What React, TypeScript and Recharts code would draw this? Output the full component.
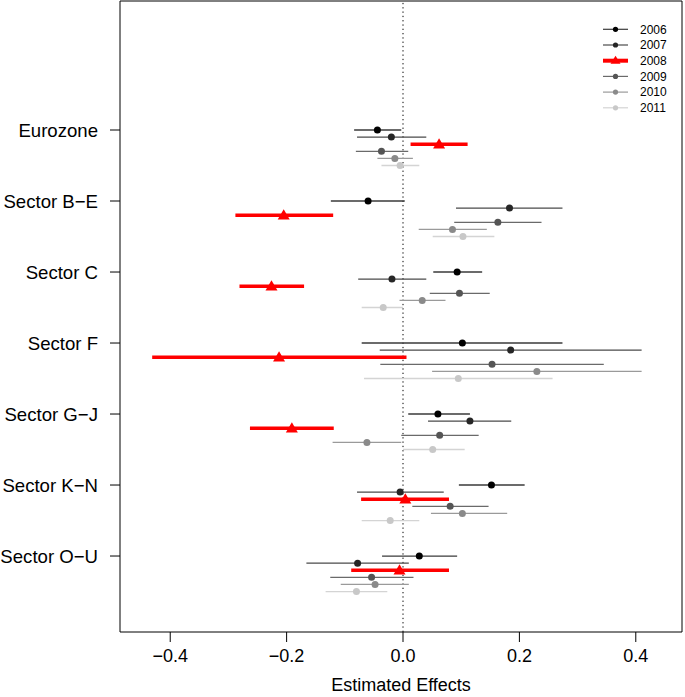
import React from 'react';
import { ScatterChart, Scatter, XAxis, YAxis, ErrorBar, ReferenceLine, ReferenceArea, Legend } from 'recharts';

// ---------- data ----------
const categories = ['Eurozone', 'Sector B−E', 'Sector C', 'Sector F', 'Sector G−J', 'Sector K−N', 'Sector O−U'];
const years = ['2006', '2007', '2008', '2009', '2010', '2011'];
const xTicks = [-0.4, -0.2, 0, 0.2, 0.4];

const est2006 = [-0.044, -0.060, 0.093, 0.102, 0.060, 0.152, 0.028];
const lo2006 = [-0.084, -0.124, 0.052, -0.071, 0.009, 0.096, -0.036];
const hi2006 = [-0.003, 0.003, 0.136, 0.274, 0.115, 0.209, 0.093];

const est2007 = [-0.020, 0.183, -0.019, 0.185, 0.115, -0.005, -0.078];
const lo2007 = [-0.079, 0.091, -0.077, -0.040, 0.043, -0.079, -0.166];
const hi2007 = [0.040, 0.274, 0.040, 0.410, 0.186, 0.070, 0.010];

const est2008 = [0.062, -0.205, -0.226, -0.213, -0.191, 0.004, -0.006];
const lo2008 = [0.013, -0.288, -0.281, -0.431, -0.263, -0.072, -0.089];
const hi2008 = [0.111, -0.120, -0.170, 0.006, -0.119, 0.079, 0.079];

const est2009 = [-0.037, 0.163, 0.097, 0.153, 0.063, 0.081, -0.054];
const lo2009 = [-0.081, 0.088, 0.046, -0.039, -0.003, 0.016, -0.125];
const hi2009 = [0.009, 0.238, 0.149, 0.345, 0.130, 0.147, 0.018];

const est2010 = [-0.014, 0.085, 0.033, 0.230, -0.062, 0.102, -0.048];
const lo2010 = [-0.044, 0.027, -0.006, 0.050, -0.121, 0.048, -0.107];
const hi2010 = [0.017, 0.144, 0.073, 0.410, -0.003, 0.179, 0.010];

const est2011 = [-0.005, 0.103, -0.034, 0.095, 0.051, -0.022, -0.080];
const lo2011 = [-0.037, 0.051, -0.071, -0.067, 0.000, -0.071, -0.133];
const hi2011 = [0.028, 0.157, 0.000, 0.257, 0.106, 0.028, -0.027];

const seriesValues = [
  { est: est2006, lo: lo2006, hi: hi2006 },
  { est: est2007, lo: lo2007, hi: hi2007 },
  { est: est2008, lo: lo2008, hi: hi2008 },
  { est: est2009, lo: lo2009, hi: hi2009 },
  { est: est2010, lo: lo2010, hi: hi2010 },
  { est: est2011, lo: lo2011, hi: hi2011 },
];

// ---------- styles ----------
const seriesStyle = [
  { point: '#000000', line: '#3a3a3a', width: 1.3, triangle: false },
  { point: '#262626', line: '#4a4a4a', width: 1.3, triangle: false },
  { point: '#ff0000', line: '#ff0000', width: 3.5, triangle: true },
  { point: '#555555', line: '#6a6a6a', width: 1.3, triangle: false },
  { point: '#8a8a8a', line: '#9a9a9a', width: 1.3, triangle: false },
  { point: '#c8c8c8', line: '#d4d4d4', width: 1.3, triangle: false },
];

const X_MIN = -0.4863;
const X_MAX = 0.4794;
const Y_MIN = -1.817;
const Y_MAX = 7.07;
const STEP = 0.1;
const FONT = "'Liberation Sans', Arial, Helvetica, sans-serif";

const buildData = (k: number) =>
  categories.map((c, i) => {
    const v = seriesValues[k];
    return {
      cat: c,
      x: v.est[i],
      y: i + k * STEP,
      err: [v.est[i] - v.lo[i], v.hi[i] - v.est[i]],
    };
  });

const makeShape = (k: number) => (props: any) => {
  const { cx, cy } = props;
  const st = seriesStyle[k];
  if (cx == null || cy == null) return <g />;
  if (st.triangle) {
    return (
      <path
        d={`M${cx},${cy - 6} L${cx + 6},${cy + 4.3} L${cx - 6},${cy + 4.3} Z`}
        fill={st.point}
      />
    );
  }
  return <circle cx={cx} cy={cy} r={3.5} fill={st.point} />;
};

const fmtX = (v: number) => (v < 0 ? '−' + Math.abs(v).toFixed(1) : v.toFixed(1));

const renderLegend = () => (
  <svg width={85} height={100} style={{ display: 'block' }}>
    {years.map((yr, k) => {
      const y = 9.3 + k * 15.7;
      const st = seriesStyle[k];
      return (
        <g key={yr}>
          <line x1={5} x2={30} y1={y} y2={y} stroke={st.line} strokeWidth={st.triangle ? 4 : 1.2} />
          {st.triangle ? (
            <path d={`M17.5,${y - 5} L22.5,${y + 3} L12.5,${y + 3} Z`} fill={st.point} />
          ) : (
            <circle cx={17.5} cy={y} r={2.6} fill={st.point} />
          )}
          <text x={42} y={y} dy="0.36em" fontSize={12} fontFamily={FONT} fill="#000">
            {yr}
          </text>
        </g>
      );
    })}
  </svg>
);

export default function App() {
  return (
    <div style={{ position: 'absolute', left: 0, top: 0, width: 685, height: 697, background: '#fff' }}>
      <ScatterChart width={685} height={697} margin={{ top: 1, right: 3, bottom: 0, left: 0 }}>
        <XAxis
          type="number"
          dataKey="x"
          domain={[X_MIN, X_MAX]}
          ticks={xTicks}
          allowDataOverflow
          axisLine={false}
          tickLine={{ stroke: '#000' }}
          tickSize={10}
          tickMargin={7}
          height={65}
          tickFormatter={fmtX}
          tick={{ fill: '#000', fontSize: 18, fontFamily: FONT }}
          label={{ value: 'Estimated Effects', position: 'insideBottom', offset: 6, fill: '#000', fontSize: 18, fontFamily: FONT }}
        />
        <YAxis
          type="number"
          dataKey="y"
          domain={[Y_MIN, Y_MAX]}
          reversed
          allowDataOverflow
          ticks={[0, 1, 2, 3, 4, 5, 6]}
          interval={0}
          width={120}
          axisLine={false}
          tickLine={{ stroke: '#000' }}
          tickSize={10}
          tickMargin={12}
          tickFormatter={(v: number) => categories[Math.round(v)] ?? ''}
          tick={{ fill: '#000', fontSize: 18.6, fontFamily: FONT }}
        />
        <ReferenceArea
          x1={X_MIN}
          x2={X_MAX}
          y1={Y_MIN}
          y2={Y_MAX}
          fill="none"
          stroke="#000"
          strokeWidth={1}
          ifOverflow="visible"
        />
        <ReferenceLine x={0} stroke="#000" strokeWidth={1} strokeDasharray="1.3 3" />
        {years.map((yr, k) => (
          <Scatter
            key={yr}
            name={yr}
            data={buildData(k)}
            isAnimationActive={false}
            shape={makeShape(k)}
            fill={seriesStyle[k].point}
          >
            <ErrorBar
              dataKey="err"
              direction="x"
              width={0}
              stroke={seriesStyle[k].line}
              strokeWidth={seriesStyle[k].width}
              isAnimationActive={false}
            />
          </Scatter>
        ))}
        <Legend
          layout="vertical"
          align="center"
          verticalAlign="middle"
          content={renderLegend}
          wrapperStyle={{ left: 598, top: 20, width: 85, height: 100 }}
        />
      </ScatterChart>
    </div>
  );
}
